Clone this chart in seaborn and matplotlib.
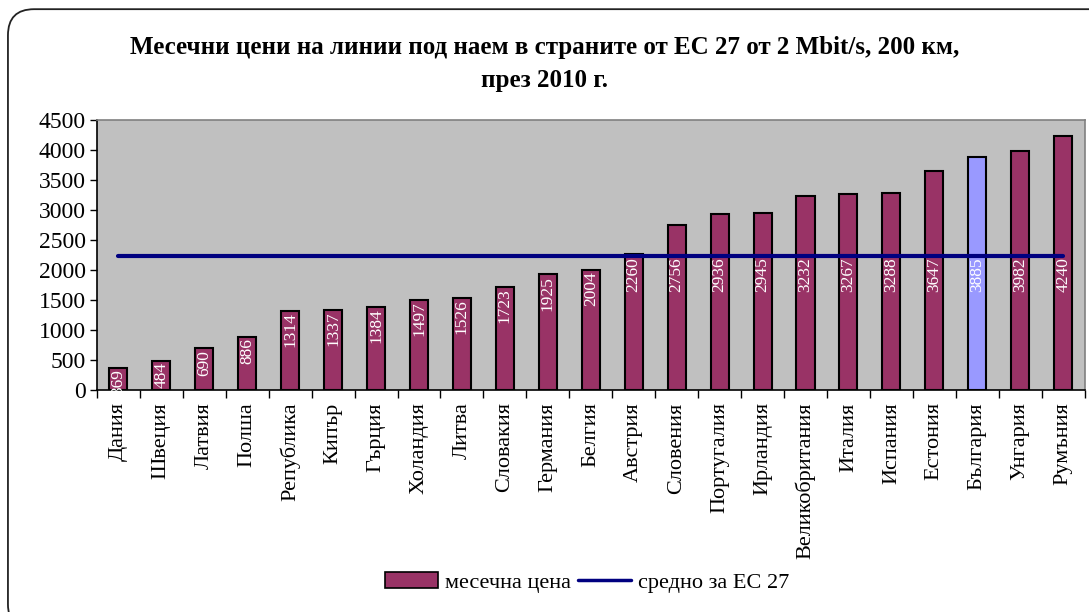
import numpy as np
import pandas as pd
import matplotlib
matplotlib.use("Agg")
import matplotlib.pyplot as plt
import seaborn as sns
from matplotlib.patches import FancyBboxPatch, Patch
from matplotlib.lines import Line2D
from matplotlib.ticker import FixedLocator

countries = [
    "Дания", "Швеция", "Латвия", "Полша", "Република", "Кипър", "Гърция",
    "Холандия", "Литва", "Словакия", "Германия", "Белгия", "Австрия",
    "Словения", "Португалия", "Ирландия", "Великобритания", "Италия",
    "Испания", "Естония", "България", "Унгария", "Румъния",
]
prices = [369, 484, 690, 886, 1314, 1337, 1384, 1497, 1526, 1723, 1925, 2004,
          2260, 2756, 2936, 2945, 3232, 3267, 3288, 3647, 3885, 3982, 4240]
eu_average = 2232
highlight = "България"

bar_color = "#993366"
hl_color = "#9999FF"
line_color = "#000080"

df = pd.DataFrame({"country": countries, "price": prices})
df["avg"] = eu_average

sns.set_style("white")
plt.rcParams["font.family"] = ["Liberation Serif", "DejaVu Serif"]
plt.rcParams["text.color"] = "black"
plt.rcParams["xtick.color"] = "black"
plt.rcParams["ytick.color"] = "black"

fig = plt.figure(figsize=(10.89, 6.12), dpi=100)
ax = fig.add_axes([0.089, 0.363, 0.907, 0.441])
ax.set_facecolor("#C0C0C0")

palette = {c: (hl_color if c == highlight else bar_color) for c in countries}
sns.barplot(data=df, x="country", y="price", hue="country", palette=palette,
            legend=False, width=0.42, edgecolor="black", linewidth=1.5,
            saturation=1, ax=ax)

# average line through the category centres
sns.lineplot(x=np.arange(len(countries)), y=df["avg"], color=line_color,
             linewidth=3, ax=ax)

# value labels inside bars, rotated
for i, v in enumerate(prices):
    top = min(v, eu_average)
    ax.annotate(str(v), (i, top), xytext=(0, -1), textcoords="offset points",
                rotation=90, ha="center", va="top", color="white", fontsize=12.5)

ax.set_xlim(-0.5, len(countries) - 0.5)
ax.set_ylim(0, 4500)
ax.set_yticks(range(0, 4501, 500))
ax.tick_params(axis="y", labelsize=17, length=5, direction="out", left=True,
               width=1, color="black", labelcolor="black", pad=3)
ax.set_xticks(range(len(countries)))
ax.set_xticklabels(countries, rotation=90, fontsize=16)
ax.tick_params(axis="x", which="major", length=0, pad=9, labelcolor="black")
ax.xaxis.set_minor_locator(FixedLocator(np.arange(-0.5, len(countries), 1)))
ax.tick_params(axis="x", which="minor", bottom=True, length=6, width=1,
               color="black", direction="out")
ax.set_xlabel("")
ax.set_ylabel("")

for side in ["left", "bottom"]:
    ax.spines[side].set_color("black")
    ax.spines[side].set_linewidth(1.2)
for side in ["top", "right"]:
    ax.spines[side].set_color("#808080")
    ax.spines[side].set_linewidth(1.2)

fig.text(0.5, 0.923, "Месечни цени на линии под наем в страните от ЕС 27 от 2 Mbit/s, 200 км,",
         ha="center", va="center", fontsize=18, fontweight="bold", color="black")
fig.text(0.5, 0.868, "през 2010 г.", ha="center", va="center",
         fontsize=18, fontweight="bold", color="black")

handles = [
    Patch(facecolor=bar_color, edgecolor="black", linewidth=1.2, label="месечна цена"),
    Line2D([0], [0], color=line_color, linewidth=2.5, label="средно за ЕС 27"),
]
fig.legend(handles=handles, loc="center", bbox_to_anchor=(0.539, 0.048), ncol=2,
           frameon=False, fontsize=16, handlelength=2.4, handletextpad=0.3,
           columnspacing=0.3, labelcolor="black")

border = FancyBboxPatch((0.0073, -0.03), 1.05, 1.015, boxstyle="round,pad=0,rounding_size=0.024",
                        transform=fig.transFigure, facecolor="none", edgecolor="#222222",
                        linewidth=1.3, mutation_aspect=1.78, clip_on=False)
fig.patches.append(border)

fig.savefig("out.png", dpi=100)
